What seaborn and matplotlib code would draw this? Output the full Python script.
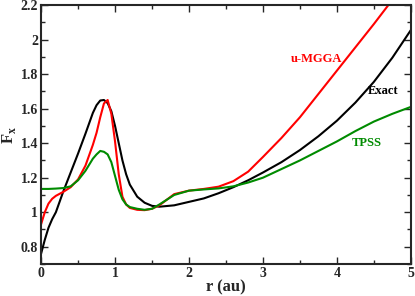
import numpy as np
import pandas as pd
import seaborn as sns
import matplotlib.pyplot as plt
from matplotlib.ticker import MultipleLocator, FuncFormatter

# values
r = [0, 0.05, 0.1, 0.15, 0.2, 0.3, 0.4, 0.5, 0.6, 0.7, 0.75, 0.8, 0.85, 0.9,
     0.95, 1.0, 1.05, 1.1, 1.15, 1.2, 1.3, 1.4, 1.5, 1.6, 1.8, 2.0, 2.2, 2.4,
     2.6, 2.8, 3.0, 3.25, 3.5, 3.75, 4.0, 4.25, 4.5, 4.75, 5.0]

exact = [0.76, 0.84, 0.91, 0.96, 1.00, 1.12, 1.23, 1.34, 1.455, 1.575, 1.62,
         1.647, 1.65, 1.632, 1.585, 1.50, 1.40, 1.30, 1.22, 1.16, 1.09, 1.055,
         1.037, 1.032, 1.04, 1.06, 1.08, 1.11, 1.145, 1.185, 1.23, 1.29, 1.36,
         1.44, 1.53, 1.635, 1.755, 1.895, 2.055]

umgga = [0.93, 1.00, 1.05, 1.078, 1.095, 1.118, 1.145, 1.19, 1.27, 1.39, 1.46,
         1.55, 1.63, 1.65, 1.57, 1.41, 1.22, 1.09, 1.045, 1.025, 1.014, 1.012,
         1.02, 1.04, 1.105, 1.125, 1.135, 1.148, 1.18, 1.235, 1.32, 1.43, 1.55,
         1.685, 1.82, 1.955, 2.09, 2.23, 2.37]

tpss = [1.135, 1.135, 1.135, 1.136, 1.137, 1.14, 1.15, 1.185, 1.24, 1.31, 1.335,
        1.355, 1.35, 1.335, 1.29, 1.21, 1.13, 1.075, 1.045, 1.03, 1.02, 1.014,
        1.02, 1.045, 1.10, 1.125, 1.132, 1.138, 1.15, 1.172, 1.20, 1.25, 1.30,
        1.355, 1.41, 1.47, 1.525, 1.57, 1.61]

names = ["Exact", "u-MGGA", "TPSS"]
colors = ["black", "#ff0000", "#008b00"]

df = pd.concat([
    pd.DataFrame({"r": r, "Fx": exact, "method": "Exact"}),
    pd.DataFrame({"r": r, "Fx": umgga, "method": "u-MGGA"}),
    pd.DataFrame({"r": r, "Fx": tpss, "method": "TPSS"}),
])

sns.set_style("ticks")
plt.rcParams['font.family'] = ['Liberation Serif', 'DejaVu Serif']
plt.rcParams['font.weight'] = 'bold'
plt.rcParams['mathtext.fontset'] = 'custom'
plt.rcParams['mathtext.rm'] = 'Liberation Serif:bold'

fig, ax = plt.subplots(figsize=(4.15, 2.96), dpi=100)
fig.subplots_adjust(left=0.099, right=0.990, top=0.983, bottom=0.108)

sns.lineplot(data=df, x="r", y="Fx", hue="method", hue_order=names,
             palette=dict(zip(names, colors)), lw=1.5, legend=False, ax=ax)

ax.set_xlim(0, 5)
ax.set_ylim(0.7, 2.2)
ax.xaxis.set_major_locator(MultipleLocator(1))
ax.xaxis.set_minor_locator(MultipleLocator(0.5))
ax.yaxis.set_major_locator(MultipleLocator(0.2))
ax.yaxis.set_minor_locator(MultipleLocator(0.1))
ax.yaxis.set_major_formatter(FuncFormatter(lambda v, p: f"{v:.1f}".rstrip("0").rstrip(".")))
ax.tick_params(which="both", direction="in", top=True, right=True, width=1.0,
               labelsize=10, pad=2)
ax.tick_params(which="major", length=5)
ax.tick_params(which="minor", length=3)
for s in ax.spines.values():
    s.set_linewidth(1.5)

ax.set_xlabel("r (au)", fontsize=12, fontweight="bold", labelpad=0)
ax.set_ylabel(r"F$_\mathrm{x}$", fontsize=12, fontweight="bold", labelpad=2)

ax.text(3.73, 1.89, "u-MGGA", color=colors[1], fontsize=9, fontweight="bold", ha="center", va="center")
ax.text(4.63, 1.70, "Exact", color=colors[0], fontsize=9, fontweight="bold", ha="center", va="center")
ax.text(4.41, 1.40, "TPSS", color=colors[2], fontsize=9, fontweight="bold", ha="center", va="center")

fig.savefig("out.png", dpi=100)
